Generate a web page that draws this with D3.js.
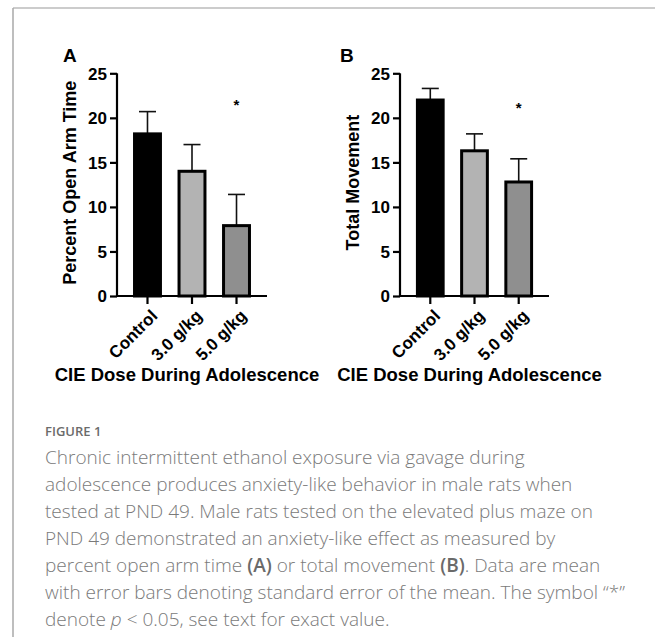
<!DOCTYPE html>
<html>
<head>
<meta charset="utf-8">
<script src="https://cdn.jsdelivr.net/npm/d3@7"></script>
<style>
  body { margin: 0; background: #fff; }
  svg { display: block; }
  .tick text { font-family: "Liberation Sans", Arial, sans-serif; font-weight: bold; }
</style>
</head>
<body>
<svg id="fig" width="655" height="637"></svg>
<script>
// Data
var groups = ["Control", "3.0 g/kg", "5.0 g/kg"]
var barColors = ["#000000", "#b3b3b3", "#8f8f8f"]
var openArmMean = [18.2, 14.0, 7.9]
var openArmSem = [2.5, 3.0, 3.5]
var movementMean = [22.0, 16.3, 12.8]
var movementSem = [1.3, 1.9, 2.6]
var yTicks = [0, 5, 10, 15, 20, 25]
var sigGroup = "5.0 g/kg"
var sigLevelA = 21.7
var sigLevelB = 21.3

var captionLines = [
  "Chronic intermittent ethanol exposure via gavage during",
  "adolescence produces anxiety-like behavior in male rats when",
  "tested at PND 49. Male rats tested on the elevated plus maze on",
  "PND 49 demonstrated an anxiety-like effect as measured by",
  "percent open arm time |(A)| or total movement |(B)|. Data are mean",
  "with error bars denoting standard error of the mean. The symbol \u201c*\u201d",
  "denote ~p~ < 0.05, see text for exact value."
]

var svg = d3.select("#fig")
var font = "'Liberation Sans', Arial, sans-serif"

// frame lines of the figure box
svg.append("line").attr("x1", 13).attr("x2", 655).attr("y1", 8).attr("y2", 8)
  .attr("stroke", "#cccccc").attr("stroke-width", 2)
svg.append("line").attr("x1", 13).attr("x2", 13).attr("y1", 8).attr("y2", 637)
  .attr("stroke", "#a8a8a8").attr("stroke-width", 1.5)

var plotTop = 73.3, plotBottom = 296

function drawPanel(left, width, letter, title, titleSize, means, sems, sigLevel) {
  var g = svg.append("g").attr("transform", "translate(" + left + ",0)")

  var x = d3.scaleBand().domain(groups).range([0, width])
    .paddingInner(0.35).paddingOuter(0.36)
  var y = d3.scaleLinear().domain([0, 25]).range([plotBottom, plotTop])

  var rows = groups.map((k, i) => ({ key: k, mean: means[i], sem: sems[i], color: barColors[i] }))

  // error bars (upper only)
  var capW = 17
  g.selectAll(".err").data(rows).enter().append("line")
    .attr("x1", d => x(d.key) + x.bandwidth() / 2)
    .attr("x2", d => x(d.key) + x.bandwidth() / 2)
    .attr("y1", d => y(d.mean))
    .attr("y2", d => y(d.mean + d.sem))
    .attr("stroke", "#111").attr("stroke-width", 1.6)
  g.selectAll(".cap").data(rows).enter().append("line")
    .attr("x1", d => x(d.key) + x.bandwidth() / 2 - capW / 2)
    .attr("x2", d => x(d.key) + x.bandwidth() / 2 + capW / 2)
    .attr("y1", d => y(d.mean + d.sem))
    .attr("y2", d => y(d.mean + d.sem))
    .attr("stroke", "#111").attr("stroke-width", 1.6)

  // bars
  g.selectAll(".bar").data(rows).enter().append("rect")
    .attr("x", d => x(d.key) + 1.5)
    .attr("width", x.bandwidth() - 3)
    .attr("y", d => y(d.mean))
    .attr("height", d => y(0) - y(d.mean))
    .attr("fill", d => d.color)
    .attr("stroke", "#000").attr("stroke-width", 3)

  // y axis
  var yAxis = g.append("g")
    .call(d3.axisLeft(y).tickValues(yTicks).tickSize(7).tickPadding(3).tickSizeOuter(0))
  yAxis.select(".domain").attr("stroke-width", 2.2).attr("d", "M0," + (plotBottom + 1) + "V" + plotTop)
  yAxis.selectAll(".tick line").attr("stroke-width", 2.2)
  yAxis.selectAll(".tick text").attr("font-size", 17).attr("fill", "#000").attr("dy", "0.34em")

  // x axis
  var xAxis = g.append("g").attr("transform", "translate(0," + plotBottom + ")")
    .call(d3.axisBottom(x).tickSize(8).tickSizeOuter(0))
  xAxis.select(".domain").attr("stroke-width", 2.2).attr("d", "M-1,0H" + width)
  xAxis.selectAll(".tick line").attr("stroke-width", 2.2)
  xAxis.selectAll(".tick text")
    .attr("font-size", 17).attr("fill", "#000")
    .attr("text-anchor", "end")
    .attr("dy", 0).attr("y", 0)
    .attr("transform", "translate(11,21) rotate(-45)")

  // significance marker
  g.append("text")
    .attr("x", x(sigGroup) + x.bandwidth() / 2)
    .attr("y", y(sigLevel) + 7)
    .attr("text-anchor", "middle")
    .attr("font-family", font).attr("font-weight", "bold").attr("font-size", 15)
    .text("*")

  // axis titles
  g.append("text")
    .attr("transform", "translate(-41," + ((plotTop + plotBottom) / 2 - 2) + ") rotate(-90)")
    .attr("text-anchor", "middle")
    .attr("font-family", font).attr("font-weight", "bold").attr("font-size", titleSize)
    .text(title)
  g.append("text")
    .attr("x", width / 2 - 5).attr("y", 381)
    .attr("text-anchor", "middle")
    .attr("font-family", font).attr("font-weight", "bold").attr("font-size", 18.5)
    .text("CIE Dose During Adolescence")

  // panel letter
  g.append("text")
    .attr("x", letter == "A" ? -54 : -60).attr("y", 62)
    .attr("font-family", font).attr("font-weight", "bold").attr("font-size", 19)
    .text(letter)
}

drawPanel(117, 150, "A", "Percent Open Arm Time", 18, openArmMean, openArmSem, sigLevelA)
drawPanel(400, 149, "B", "Total Movement", 18, movementMean, movementSem, sigLevelB)

// caption
svg.append("text")
  .attr("x", 45).attr("y", 436)
  .attr("font-family", "'Open Sans', sans-serif").attr("font-weight", 600)
  .attr("font-size", 13).attr("fill", "#6b6b6b")
  .text("FIGURE 1")

var cap = svg.append("g")
  .attr("font-family", "'Open Sans', sans-serif").attr("font-weight", 300)
  .attr("font-size", 19).attr("fill", "#7a7a7a")

captionLines.forEach((line, i) => {
  var t = cap.append("text").attr("x", 45).attr("y", 464 + i * 27)
  // split on markers: |bold| and ~italic~
  line.split(/(\|[^|]*\||~[^~]*~)/).forEach(part => {
    if (!part) return
    var s = t.append("tspan")
    if (part[0] == "|") {
      s.text(part.slice(1, -1)).attr("font-weight", 600).attr("fill", "#6a6a6a")
    } else if (part[0] == "~") {
      s.text(part.slice(1, -1)).attr("font-style", "italic")
    } else {
      s.text(part)
    }
  })
})
</script>
</body>
</html>
